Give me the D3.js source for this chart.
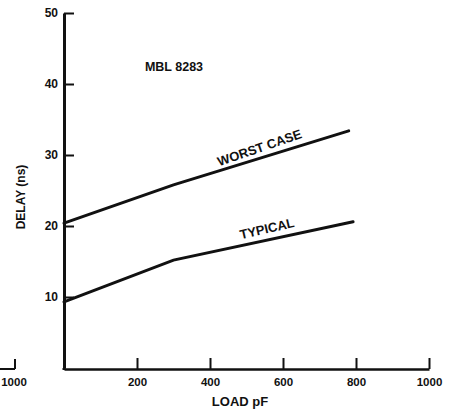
<!DOCTYPE html>
<html>
<head>
<meta charset="utf-8">
<script src="https://cdn.jsdelivr.net/npm/d3@7"></script>
<style>
  body { margin: 0; background: #fff; }
  svg text { font-family: "Liberation Sans", Arial, Helvetica, sans-serif; font-weight: bold; fill: #111; }
</style>
</head>
<body>
<div id="chart"></div>
<script>
var WIDTH = 452;
var HEIGHT = 411;
var AXIS_Y = 369;

// data
const load_ticks = [200, 400, 600, 800, 1000];
const delay_ticks = [10, 20, 30, 40, 50];
const worst_load = [0, 300, 780];
const worst_delay = [20.4, 25.8, 33.4];
const typical_load = [0, 300, 792];
const typical_delay = [9.3, 15.2, 20.6];

const svg = d3.select('#chart').append("svg").attr("width", WIDTH).attr("height", HEIGHT)

// scales
const x_scale = d3.scaleLinear().domain([0, 1000]).range([64, 429])
const y_scale = d3.scaleLinear().domain([0, 50]).range([368, 13])

// axes
const gen_x = d3.axisBottom(x_scale).tickValues(load_ticks).tickFormat(d3.format("d")).tickSizeInner(-11).tickSizeOuter(0).tickPadding(9)
const x_axis = svg.append("g").attr("class", "x axis").attr('transform', 'translate(0,' + AXIS_Y + ')').call(gen_x)
x_axis.select(".domain").attr("stroke", "#111").attr("stroke-width", 2.5)
x_axis.selectAll(".tick line").attr("stroke", "#111").attr("stroke-width", 2)
x_axis.selectAll("text").attr("font-size", "11.5px").attr("fill", "#111")

const gen_y = d3.axisLeft(y_scale).tickValues(delay_ticks).tickSizeInner(-10).tickSizeOuter(0).tickPadding(6)
const y_axis = svg.append("g").attr("class", "y axis").attr('transform', 'translate(' + x_scale(0) + ',0)').call(gen_y)
y_axis.select(".domain").attr("stroke", "#111").attr("stroke-width", 3)
y_axis.selectAll(".tick line").attr("stroke", "#111").attr("stroke-width", 2)
y_axis.selectAll("text").attr("font-size", "12px").attr("fill", "#111")
// the vertical axis runs down to the load axis
svg.append("line").attr("x1", x_scale(0)).attr("x2", x_scale(0)).attr("y1", y_scale(0)).attr("y2", AXIS_Y + 1).attr("stroke", "#111").attr("stroke-width", 3)

// leftover of the neighbouring chart's axis at the left edge
const stray = svg.append("g")
stray.append("line").attr("x1", 0).attr("x2", 15).attr("y1", AXIS_Y).attr("y2", AXIS_Y).attr("stroke", "#111").attr("stroke-width", 2)
stray.append("line").attr("x1", 15).attr("x2", 15).attr("y1", AXIS_Y).attr("y2", AXIS_Y - 10).attr("stroke", "#111").attr("stroke-width", 2)
stray.append("text").attr("x", 14).attr("y", 386).attr("text-anchor", "middle").attr("font-size", "11.5px").text("1000")

// curves
const line = d3.line().x(d => x_scale(d[0])).y(d => y_scale(d[1]))
const worst = worst_load.map((v, i) => [v, worst_delay[i]])
const typical = typical_load.map((v, i) => [v, typical_delay[i]])

svg.append("path").datum(worst).attr("d", line).attr("fill", "none").attr("stroke", "#111").attr("stroke-width", 3).attr("stroke-linecap", "round")
svg.append("path").datum(typical).attr("d", line).attr("fill", "none").attr("stroke", "#111").attr("stroke-width", 3).attr("stroke-linecap", "round")

// labels
svg.append("text").attr("x", 174).attr("y", 71).attr("text-anchor", "middle").attr("font-size", "12.5px").text("MBL 8283")
svg.append("text").attr("transform", "translate(261,152) rotate(-19)").attr("text-anchor", "middle").attr("font-size", "13px").text("WORST CASE")
svg.append("text").attr("transform", "translate(268,233) rotate(-13)").attr("text-anchor", "middle").attr("font-size", "13px").text("TYPICAL")

svg.append("text").attr("transform", "translate(25,197) rotate(-90)").attr("text-anchor", "middle").attr("font-size", "12px").text("DELAY (ns)")
svg.append("text").attr("x", 240).attr("y", 406).attr("text-anchor", "middle").attr("font-size", "13px").text("LOAD pF")
</script>
</body>
</html>
